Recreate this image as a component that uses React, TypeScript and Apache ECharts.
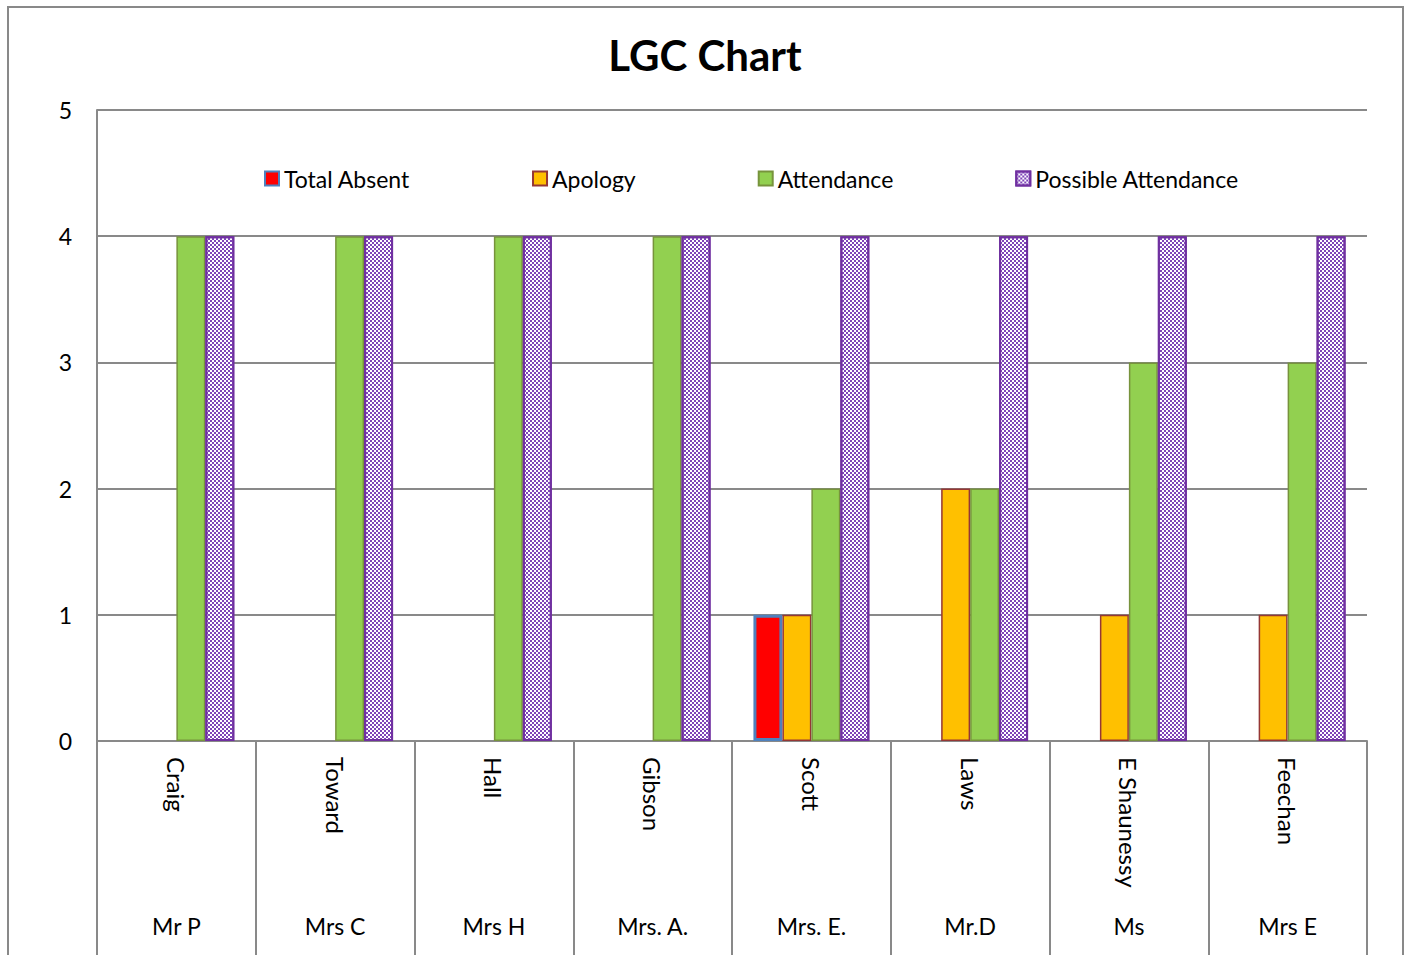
import React, { useEffect, useRef } from 'react';
import * as echarts from 'echarts';

const surnames = ['Craig', 'Toward', 'Hall', 'Gibson', 'Scott', 'Laws', 'E Shaunessy', 'Feechan'];
const titles = ['Mr P', 'Mrs C', 'Mrs H', 'Mrs. A.', 'Mrs. E.', 'Mr.D', 'Ms', 'Mrs E'];
const totalAbsent = [0, 0, 0, 0, 1, 0, 0, 0];
const apology = [0, 0, 0, 0, 1, 2, 1, 1];
const attendance = [4, 4, 4, 4, 2, 2, 3, 3];
const possibleAttendance = [4, 4, 4, 4, 4, 4, 4, 4];
const yMin = 0;
const yMax = 5;
const yStep = 1;

const FONT = 'Lato';
const GREY = '#898989';

const nz = (arr: number[]) => arr.map((v) => (v === 0 ? null : v));

export default function App() {
  const ref = useRef<HTMLDivElement>(null);
  useEffect(() => {
    if (!ref.current) return;
    const chart = echarts.init(ref.current, undefined, { renderer: 'svg' });
    chart.setOption({
      animation: false,
      backgroundColor: '#ffffff',
      textStyle: { fontFamily: FONT },
      title: {
        text: 'LGC Chart',
        left: 'center',
        top: 29,
        textStyle: { fontFamily: FONT, fontSize: 42, fontWeight: 'bold', color: '#000' },
      },
      legend: {
        left: 259,
        top: 162,
        itemGap: 122,
        itemWidth: 14,
        itemHeight: 14,
        icon: 'rect',
        textStyle: { fontFamily: FONT, fontSize: 23, color: '#000', padding: [0, 0, 0, 0] },
        data: ['Total Absent', 'Apology', 'Attendance', 'Possible Attendance'],
      },
      graphic: [
        {
          type: 'rect',
          silent: true,
          z: -1,
          shape: { x: 8, y: 7, width: 1395, height: 960 },
          style: { fill: 'none', stroke: GREY, lineWidth: 2 },
        },
      ],
      grid: { left: 97, right: 43, top: 110, bottom: 214, containLabel: false },
      xAxis: [
        {
          type: 'category',
          position: 'bottom',
          data: surnames,
          axisLine: { show: true, lineStyle: { color: GREY, width: 2 } },
          axisTick: { show: true, interval: 0, length: 215, lineStyle: { color: GREY, width: 2 } },
          axisLabel: {
            interval: 0,
            rotate: -90,
            margin: 16,
            fontFamily: FONT,
            fontSize: 24,
            color: '#000',
          },
          splitLine: { show: false },
        },
        {
          type: 'category',
          position: 'bottom',
          data: titles,
          axisLine: { show: false },
          axisTick: { show: false },
          axisLabel: {
            interval: 0,
            margin: 173,
            fontFamily: FONT,
            fontSize: 23,
            color: '#000',
          },
          splitLine: { show: false },
        },
      ],
      yAxis: {
        type: 'value',
        min: yMin,
        max: yMax,
        interval: yStep,
        axisLine: { show: true, lineStyle: { color: GREY, width: 2 } },
        axisTick: { show: false },
        axisLabel: { margin: 25, fontFamily: FONT, fontSize: 23, color: '#000' },
        splitLine: { show: true, lineStyle: { color: GREY, width: 2 } },
      },
      series: [
        {
          name: 'Total Absent',
          type: 'bar',
          barGap: '0%',
          barCategoryGap: '27%',
          data: nz(totalAbsent),
          itemStyle: { color: '#FF0000', borderColor: '#4F81BD', borderWidth: 3 },
        },
        {
          name: 'Apology',
          type: 'bar',
          barGap: '0%',
          barCategoryGap: '27%',
          data: nz(apology),
          itemStyle: { color: '#FFC000', borderColor: '#953735', borderWidth: 1.5 },
        },
        {
          name: 'Attendance',
          type: 'bar',
          barGap: '0%',
          barCategoryGap: '27%',
          data: nz(attendance),
          itemStyle: { color: '#92D050', borderColor: '#77933C', borderWidth: 1.5 },
        },
        {
          name: 'Possible Attendance',
          type: 'bar',
          barGap: '0%',
          barCategoryGap: '27%',
          data: nz(possibleAttendance),
          itemStyle: {
            color: '#FFFFFF',
            borderColor: '#7030A0',
            borderWidth: 2,
            decal: {
              symbol: 'rect',
              symbolSize: 1,
              color: '#7E45B8',
              backgroundColor: '#FFFFFF',
              dashArrayX: [[2, 2], [0, 2, 2, 0]],
              dashArrayY: [2, 0],
              rotation: 0,
            },
          },
        },
      ],
    });
    return () => chart.dispose();
  }, []);
  return (
    <div
      ref={ref}
      style={{ position: 'absolute', left: 0, top: 0, width: 1410, height: 955 }}
    />
  );
}
